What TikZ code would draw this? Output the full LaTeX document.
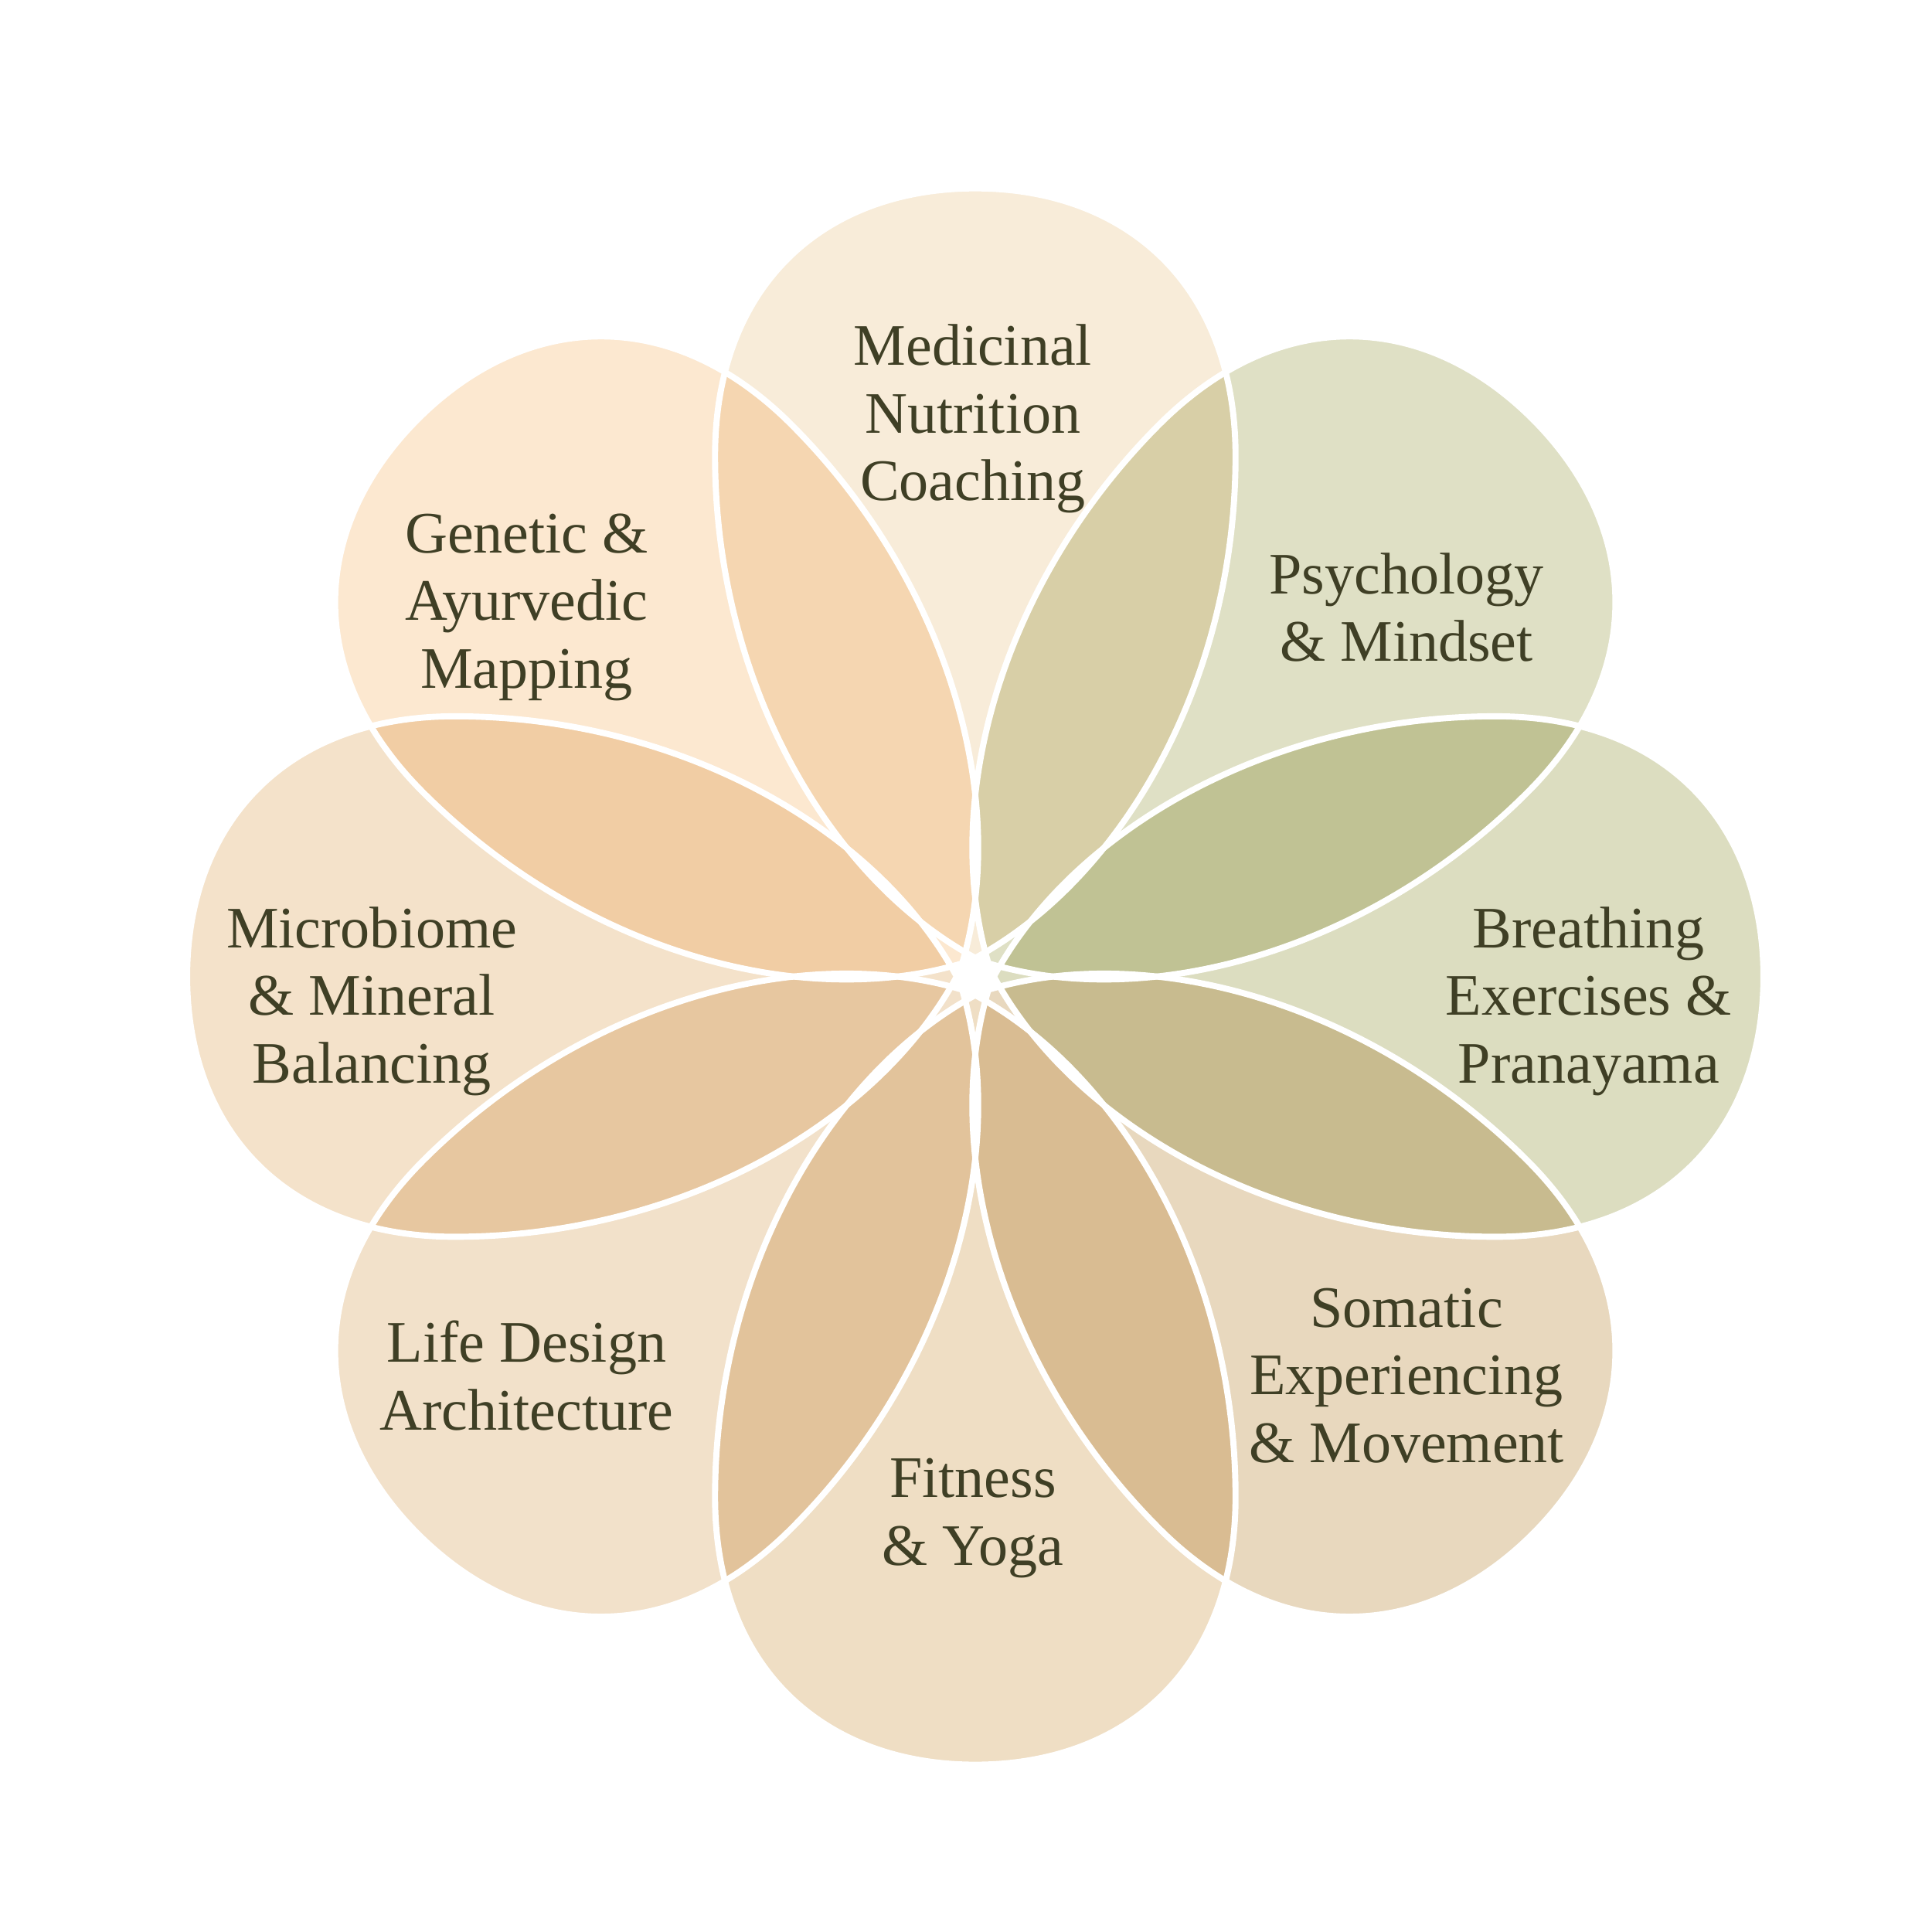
\documentclass[tikz,border=0pt]{standalone}
\usepackage{fontspec}
\setmainfont{Liberation Serif}
\definecolor{txt}{HTML}{3F3F25}
\definecolor{p1}{HTML}{F8ECD9}
\definecolor{p2}{HTML}{DFE0C5}
\definecolor{p3}{HTML}{DCDDC0}
\definecolor{p4}{HTML}{E8D8BE}
\definecolor{p5}{HTML}{EFDEC4}
\definecolor{p6}{HTML}{F2E1CA}
\definecolor{p7}{HTML}{F4E2CA}
\definecolor{p8}{HTML}{FCE8D0}
\tikzset{
  lbl/.style={text=txt,align=center,font=\fontsize{13.5}{15.5}\selectfont},
}
\newcommand{\petalpath}{(0,0.15) .. controls (-1.2,0.8) and (-2.1,2.4) .. (-2.1,4.2) .. controls (-2.1,5.6) and (-1.2,6.36) .. (0,6.36) .. controls (1.2,6.36) and (2.1,5.6) .. (2.1,4.2) .. controls (2.1,2.4) and (1.2,0.8) .. (0,0.15) -- cycle}
\begin{document}
\begin{tikzpicture}
\useasboundingbox[fill=white] (-7.87,-7.71) rectangle (7.72,7.88);
\begin{scope}[blend group=multiply]
\foreach \a/\c in {0/p1,-45/p2,-90/p3,-135/p4,180/p5,135/p6,90/p7,45/p8}{
  \fill[\c,rotate=\a] \petalpath;
}
\end{scope}
\foreach \a in {0,-45,-90,-135,180,135,90,45}{
  \draw[white,line width=1.4pt,rotate=\a] \petalpath;
}
\node[lbl] (t1) at (-0.02,4.5) {Medicinal\\Nutrition\\Coaching};
\node[lbl] (t2) at (3.48,2.98) {Psychology\\\& Mindset};
\node[lbl] (t3) at (4.95,-0.2) {Breathing\\Exercises \&\\Pranayama};
\node[lbl] (t4) at (3.48,-3.22) {Somatic\\Experiencing\\\& Movement};
\node[lbl] (t5) at (-0.02,-4.37) {Fitness\\\& Yoga};
\node[lbl] (t6) at (-3.62,-3.22) {Life Design\\Architecture};
\node[lbl] (t7) at (-4.87,-0.2) {Microbiome\\\& Mineral\\Balancing};
\node[lbl] (t8) at (-3.62,2.98) {Genetic \&\\Ayurvedic\\Mapping};
\end{tikzpicture}
\end{document}
